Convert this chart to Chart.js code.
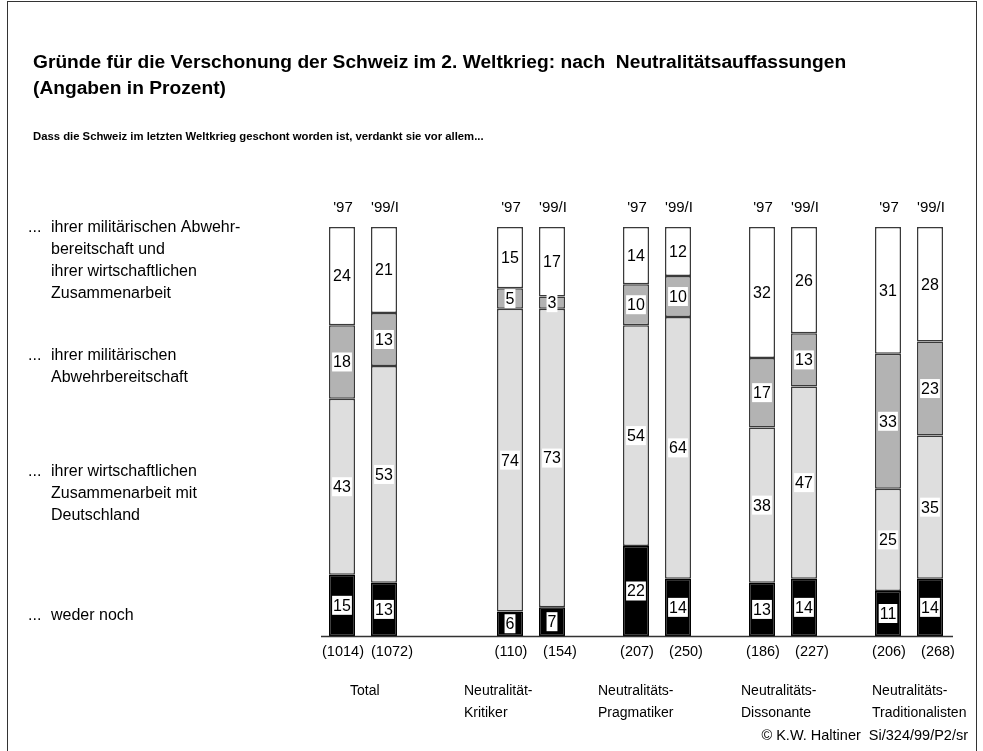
<!DOCTYPE html>
<html lang="de">
<head>
<meta charset="UTF-8">
<title>Gründe für die Verschonung der Schweiz</title>
<script src="https://cdn.jsdelivr.net/npm/chart.js"></script>
<style>
  html, body { margin: 0; padding: 0; background: #fff; }
  #wrap { position: relative; width: 983px; height: 751px; }
  canvas { position: absolute; left: 0; top: 0; }
</style>
</head>
<body>
<div id="wrap"><canvas id="myChart" width="983" height="751"></canvas></div>
<script>
// categories (empty slots make the gaps between groups)
const slots = ['T97', 'T99', '', '', 'K97', 'K99', '', 'P97', 'P99', '', 'D97', 'D99', '', 'TR97', 'TR99'];
const yearLabels = ["'97", "'99/I", '', '', "'97", "'99/I", '', "'97", "'99/I", '', "'97", "'99/I", '', "'97", "'99/I"];
const sampleSizes = ['(1014)', '(1072)', '', '', '(110)', '(154)', '', '(207)', '(250)', '', '(186)', '(227)', '', '(206)', '(268)'];
const groupNames = [['Total'], ['Neutralität-', 'Kritiker'], ['Neutralitäts-', 'Pragmatiker'], ['Neutralitäts-', 'Dissonante'], ['Neutralitäts-', 'Traditionalisten']];

// series, bottom to top
const wederNoch    = [15, 13, null, null, 6, 7, null, 22, 14, null, 13, 14, null, 11, 14];
const wirtschaft   = [43, 53, null, null, 74, 73, null, 54, 64, null, 38, 47, null, 25, 35];
const militaer     = [18, 13, null, null, 5, 3, null, 10, 10, null, 17, 13, null, 33, 23];
const beides       = [24, 21, null, null, 15, 17, null, 14, 12, null, 32, 26, null, 31, 28];

const legendTexts = [
  ['ihrer militärischen Abwehr-', 'bereitschaft und', 'ihrer wirtschaftlichen', 'Zusammenarbeit'],
  ['ihrer militärischen', 'Abwehrbereitschaft'],
  ['ihrer wirtschaftlichen', 'Zusammenarbeit mit', 'Deutschland'],
  ['weder noch']
];

const FONT = '"Liberation Sans", Arial, sans-serif';

const decor = {
  id: 'decor',
  afterDatasetsDraw(chart) {
    const ctx = chart.ctx;
    const area = chart.chartArea;
    const xs = chart.scales.x;
    ctx.save();

    // value boxes
    ctx.font = '16px ' + FONT;
    ctx.textAlign = 'center';
    ctx.textBaseline = 'middle';
    chart.data.datasets.forEach((ds, di) => {
      chart.getDatasetMeta(di).data.forEach((bar, i) => {
        const v = ds.data[i];
        if (v == null) return;
        const cy = (bar.y + bar.base) / 2;
        const w = ctx.measureText(String(v)).width;
        ctx.fillStyle = '#fff';
        ctx.fillRect(bar.x - w / 2 - 1, cy - 9.5, w + 2, 19);
        ctx.fillStyle = '#000';
        ctx.fillText(String(v), bar.x, cy + 1);
      });
    });

    // baseline
    ctx.strokeStyle = '#333';
    ctx.lineWidth = 1.5;
    ctx.beginPath();
    ctx.moveTo(area.left, area.bottom + 0.5);
    ctx.lineTo(area.right + 2, area.bottom + 0.5);
    ctx.stroke();

    // year labels and sample sizes
    ctx.fillStyle = '#000';
    ctx.font = '15px ' + FONT;
    ctx.textBaseline = 'middle';
    yearLabels.forEach((t, i) => {
      if (!t) return;
      ctx.fillText(t, xs.getPixelForValue(i) + 1, area.top - 19);
    });
    ctx.font = '14.5px ' + FONT;
    sampleSizes.forEach((t, i) => {
      if (!t) return;
      const shift = (i === 0 || i === 4 || i === 7 || i === 10 || i === 13) ? 1 : 8;
      ctx.fillText(t, xs.getPixelForValue(i) + shift, area.bottom + 16);
    });

    // group names
    const groupX = [350, 464, 598, 741, 872];
    ctx.font = '14px ' + FONT;
    ctx.textAlign = 'left';
    groupNames.forEach((lines, g) => {
      lines.forEach((l, k) => ctx.fillText(l, groupX[g], area.bottom + 55 + k * 22));
    });

    // legend texts on the left
    ctx.font = '16px ' + FONT;
    const legendY = [228, 356, 472, 616];
    legendTexts.forEach((lines, g) => {
      ctx.fillText('...', 28, legendY[g]);
      lines.forEach((l, k) => ctx.fillText(l, 51, legendY[g] + k * 22));
    });

    // titles
    ctx.font = 'bold 19.2px ' + FONT;
    ctx.fillText('Gründe für die Verschonung der Schweiz im 2. Weltkrieg: nach  Neutralitätsauffassungen', 33, 63);
    ctx.fillText('(Angaben in Prozent)', 33, 89);
    ctx.font = 'bold 11.3px ' + FONT;
    ctx.fillText('Dass die Schweiz im letzten Weltkrieg geschont worden ist, verdankt sie vor allem...', 33, 137);

    ctx.font = '14.5px ' + FONT;
    ctx.textAlign = 'right';
    ctx.fillText('© K.W. Haltiner  Si/324/99/P2/sr', 968, 736);

    // frame
    ctx.strokeStyle = '#333';
    ctx.lineWidth = 1;
    ctx.strokeRect(7.5, 1.5, 969, 760);
    ctx.restore();
  }
};

const mk = (label, data, color, border) => ({
  label, data,
  backgroundColor: color,
  borderColor: border,
  borderWidth: 1.5,
  borderSkipped: false,
  barPercentage: 0.62,
  categoryPercentage: 1
});

new Chart(document.getElementById('myChart'), {
  type: 'bar',
  data: {
    labels: slots,
    datasets: [
      mk('weder noch', wederNoch, '#000000', '#000000'),
      mk('wirtschaftliche Zusammenarbeit', wirtschaft, '#dedede', '#3a3a3a'),
      mk('militärische Abwehrbereitschaft', militaer, '#b3b3b3', '#3a3a3a'),
      mk('beides', beides, '#ffffff', '#3a3a3a')
    ]
  },
  options: {
    responsive: false,
    animation: false,
    layout: { padding: { left: 321, right: 32, top: 227, bottom: 115 } },
    plugins: { legend: { display: false }, tooltip: { enabled: false } },
    scales: {
      x: { stacked: true, display: false },
      y: { stacked: true, display: false, min: 0, max: 100 }
    }
  },
  plugins: [decor]
});
</script>
</body>
</html>
